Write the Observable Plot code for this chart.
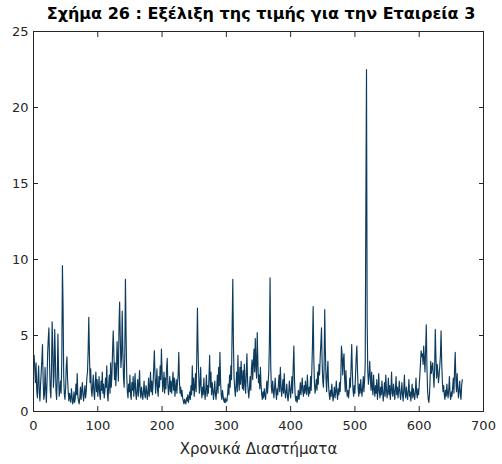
<!DOCTYPE html>
<html>
<head>
<meta charset="utf-8">
<script src="https://cdn.jsdelivr.net/npm/d3@7"></script>
<script src="https://cdn.jsdelivr.net/npm/@observablehq/plot@0.6"></script>
<style>
  body { margin: 0; background: #fff; }
  #chart { width: 502px; }
  #title {
    width: 502px; height: 24px; box-sizing: border-box; padding-left: 20px;
    font-family: "DejaVu Sans", sans-serif; font-weight: bold; font-size: 16px;
    line-height: 28px; text-align: center; color: #000; white-space: nowrap;
  }
</style>
</head>
<body>
<div id="chart">
  <div id="title">Σχήμα 26 : Εξέλιξη της τιμής για την Εταιρεία 3</div>
</div>
<script>
// Price of company 3 per time period (period 1 .. 667)
const prices = [
  3.7, 2.8, 1.9, 3.2, 1.4, 0.9, 2.1, 3.0, 1.2, 0.7,
  1.8, 2.6, 3.4, 4.4, 2.0, 0.8, 1.1, 2.9, 1.5, 0.6,
  1.9, 3.8, 4.8, 5.5, 3.1, 1.4, 0.9, 2.7, 5.9, 4.2,
  1.6, 2.4, 5.4, 3.6, 1.3, 0.8, 2.2, 5.1, 2.6, 1.0,
  1.4, 2.0, 1.2, 3.4, 9.6, 6.9, 2.3, 1.1, 0.8, 1.6,
  3.0, 3.6, 2.1, 1.3, 0.7, 1.2, 0.9, 0.6, 1.5, 1.0,
  0.5, 0.7, 1.3, 0.6, 0.9, 1.8, 1.1, 2.5, 1.0, 0.7,
  0.5, 0.9, 1.6, 0.8, 1.4, 1.9, 1.1, 0.7, 1.2, 1.7,
  0.9, 1.3, 2.2, 2.6, 4.0, 6.2, 3.8, 1.9, 2.8, 1.4,
  1.0, 1.7, 2.4, 1.2, 0.8, 1.9, 2.6, 1.3, 2.1, 1.0,
  1.5, 2.3, 1.1, 0.8, 2.0, 1.4, 2.6, 1.2, 1.8, 0.9,
  1.3, 2.2, 1.6, 3.0, 1.1, 0.7, 1.8, 2.4, 1.2, 3.2,
  1.6, 2.4, 4.0, 5.3, 3.9, 2.1, 3.2, 1.7, 2.6, 4.6,
  3.3, 2.0, 5.6, 7.2, 4.8, 2.9, 3.6, 6.6, 4.1, 2.2,
  1.6, 3.8, 8.7, 5.2, 2.4, 1.3, 0.9, 1.8, 1.3, 2.4,
  1.1, 0.8, 1.9, 1.4, 2.3, 1.0, 1.6, 2.5, 1.2, 0.8,
  1.4, 2.1, 1.0, 1.8, 2.7, 1.3, 0.9, 1.6, 1.2, 0.8,
  1.3, 2.0, 1.1, 0.9, 1.7, 1.4, 0.8, 1.2, 2.2, 1.0,
  1.5, 2.6, 1.3, 2.0, 1.1, 1.8, 2.9, 4.0, 2.4, 1.2,
  1.9, 2.8, 1.4, 1.0, 2.3, 1.6, 3.0, 2.1, 4.1, 2.6,
  1.3, 1.8, 2.6, 1.2, 2.2, 1.5, 2.8, 3.5, 1.8, 1.1,
  1.6, 2.3, 1.3, 2.0, 1.2, 1.8, 2.6, 1.4, 2.2, 1.0,
  1.5, 2.1, 1.2, 1.9, 2.4, 3.9, 2.0, 1.2, 1.6, 1.0,
  1.4, 0.9, 0.7, 0.5, 0.8, 0.6, 0.5, 0.9, 0.7, 1.1,
  0.6, 0.9, 1.3, 0.8, 1.7, 1.1, 3.0, 1.4, 2.2, 1.0,
  1.6, 2.5, 1.3, 3.6, 6.8, 4.0, 2.3, 1.2, 1.8, 2.9,
  1.4, 0.9, 1.6, 1.1, 2.2, 1.3, 0.8, 1.5, 2.4, 1.0,
  1.7, 1.2, 2.3, 3.7, 1.6, 2.6, 1.1, 1.9, 1.4, 0.8,
  1.3, 2.0, 1.1, 0.8, 1.5, 2.4, 1.2, 2.9, 1.7, 3.9,
  2.0, 1.1, 0.8, 1.4, 1.0, 0.7, 0.6, 0.9, 0.6, 0.8,
  0.7, 1.2, 1.8, 1.1, 2.4, 1.6, 3.0, 2.1, 5.5, 8.7,
  4.5, 2.2, 1.5, 1.0, 1.7, 2.6, 1.3, 3.7, 2.0, 1.4,
  2.9, 1.8, 3.3, 2.2, 1.5, 2.7, 1.4, 3.1, 1.9, 1.2,
  2.5, 3.8, 2.0, 1.3, 0.9, 1.6, 2.3, 1.4, 2.8, 3.4,
  2.1, 3.2, 4.1, 2.6, 4.8, 3.0, 2.2, 5.2, 3.3, 1.9,
  2.4, 1.5, 2.9, 1.7, 1.1, 0.8, 1.3, 0.9, 1.5, 1.1,
  0.8, 1.4, 2.0, 1.2, 1.9, 2.6, 4.7, 8.8, 3.1, 1.6,
  1.2, 2.0, 1.4, 0.9, 1.6, 2.2, 1.3, 0.8, 1.5, 1.1,
  1.8, 2.4, 1.3, 2.9, 1.7, 1.0, 1.5, 2.1, 1.2, 2.5,
  1.4, 0.9, 1.3, 1.8, 1.0, 0.7, 1.2, 2.0, 1.4, 0.9,
  1.6, 2.3, 1.2, 3.0, 4.3, 2.1, 1.1, 0.7, 1.0, 0.6,
  0.9, 1.4, 0.8, 1.2, 1.9, 1.1, 1.6, 2.2, 1.3, 1.0,
  1.7, 1.2, 2.0, 1.4, 1.1, 2.4, 1.5, 1.0, 1.6, 1.2,
  2.3, 1.4, 2.8, 4.4, 6.9, 3.5, 1.9, 1.2, 1.6, 2.1,
  1.4, 2.6, 1.8, 3.1, 2.4, 3.6, 4.5, 5.5, 3.2, 2.0,
  1.6, 2.8, 6.7, 4.0, 2.2, 1.3, 2.5, 3.3, 1.7, 1.1,
  0.8, 1.4, 1.0, 1.8, 1.2, 0.7, 1.1, 1.6, 0.9, 1.3,
  2.0, 1.2, 0.8, 1.5, 1.1, 1.9, 1.3, 2.2, 4.3, 3.8,
  2.4, 3.4, 3.8, 2.1, 1.3, 2.7, 1.6, 1.0, 1.4, 0.9,
  1.3, 2.2, 1.6, 3.0, 4.4, 2.6, 1.4, 1.0, 1.7, 1.2,
  2.5, 3.6, 4.3, 2.7, 1.5, 1.0, 1.8, 1.2, 2.1, 1.4,
  1.0, 1.6, 2.3, 1.3, 2.0, 3.1, 13.6, 22.5, 6.0, 2.6,
  1.8, 2.4, 3.3, 2.2, 1.4, 2.6, 1.6, 1.1, 2.4, 1.5,
  1.0, 1.7, 1.2, 2.1, 0.8, 1.4, 2.5, 1.3, 0.9, 1.6,
  1.1, 2.0, 1.4, 0.7, 1.2, 1.9, 1.0, 2.4, 1.5, 0.9,
  1.3, 2.2, 1.1, 1.7, 0.8, 1.4, 2.6, 1.2, 1.0, 1.8,
  1.3, 0.8, 1.5, 2.3, 1.1, 1.6, 0.9, 1.4, 2.0, 1.2,
  0.8, 1.3, 1.9, 1.1, 0.7, 1.5, 2.4, 1.2, 0.9, 1.6,
  1.1, 0.8, 1.4, 2.1, 1.0, 1.3, 0.7, 1.2, 1.8, 0.9,
  1.5, 1.1, 0.8, 1.3, 2.2, 1.2, 0.9, 1.5, 1.1, 1.7,
  2.4, 3.2, 4.0, 3.6, 3.8, 3.1, 4.3, 3.4, 2.6, 4.1,
  5.7, 3.0, 1.4, 0.8, 0.6, 1.1, 2.2, 3.3, 2.5, 2.9,
  3.2, 2.4, 1.6, 2.8, 5.4, 3.6, 2.2, 3.1, 2.6, 1.9,
  2.4, 3.0, 3.7, 5.3, 3.2, 2.0, 1.3, 1.7, 1.1, 0.8,
  1.4, 1.0, 1.8, 1.2, 0.9, 1.5, 2.3, 1.1, 0.8, 1.3,
  1.0, 1.6, 2.2, 1.2, 2.8, 3.9, 2.1, 1.3, 2.5, 1.6,
  0.9, 1.4, 2.0, 1.1, 0.8, 1.7, 2.1
];
const periods = prices.map((_, i) => i + 1);

const xTicks = [0, 100, 200, 300, 400, 500, 600, 700];
const yTicks = [0, 5, 10, 15, 20, 25];
const xLabel = "Χρονικά Διαστήματα";

const axisColor = "#262626";
const lineColor = "#0c3b5e";

const chart = Plot.plot({
  width: 502,
  height: 440,
  marginTop: 7,
  marginBottom: 53,
  marginLeft: 33,
  marginRight: 19,
  style: { fontFamily: "DejaVu Sans, sans-serif", fontSize: "13px", color: axisColor, background: "#fff" },
  x: { domain: [0, 700] },
  y: { domain: [0, 25] },
  marks: [
    Plot.lineY(prices, { x: periods, y: prices, stroke: lineColor, strokeWidth: 1.15 }),
    Plot.frame({ stroke: axisColor, strokeWidth: 1 }),
    // inward ticks on all four sides
    Plot.axisX(xTicks, { anchor: "bottom", tickSize: -5, tickPadding: 14, label: null, stroke: axisColor, fill: axisColor }),
    Plot.axisX(xTicks, { anchor: "top", tickSize: -5, tickFormat: () => "", label: null, stroke: axisColor }),
    Plot.axisY(yTicks, { anchor: "left", tickSize: -5, tickPadding: 10, label: null, stroke: axisColor, fill: axisColor }),
    Plot.axisY(yTicks, { anchor: "right", tickSize: -5, tickFormat: () => "", label: null, stroke: axisColor }),
    Plot.text([xLabel], { text: d => d, frameAnchor: "bottom", dy: 42, fontSize: 15, fill: axisColor })
  ]
});
document.getElementById("chart").appendChild(chart);
</script>
</body>
</html>
